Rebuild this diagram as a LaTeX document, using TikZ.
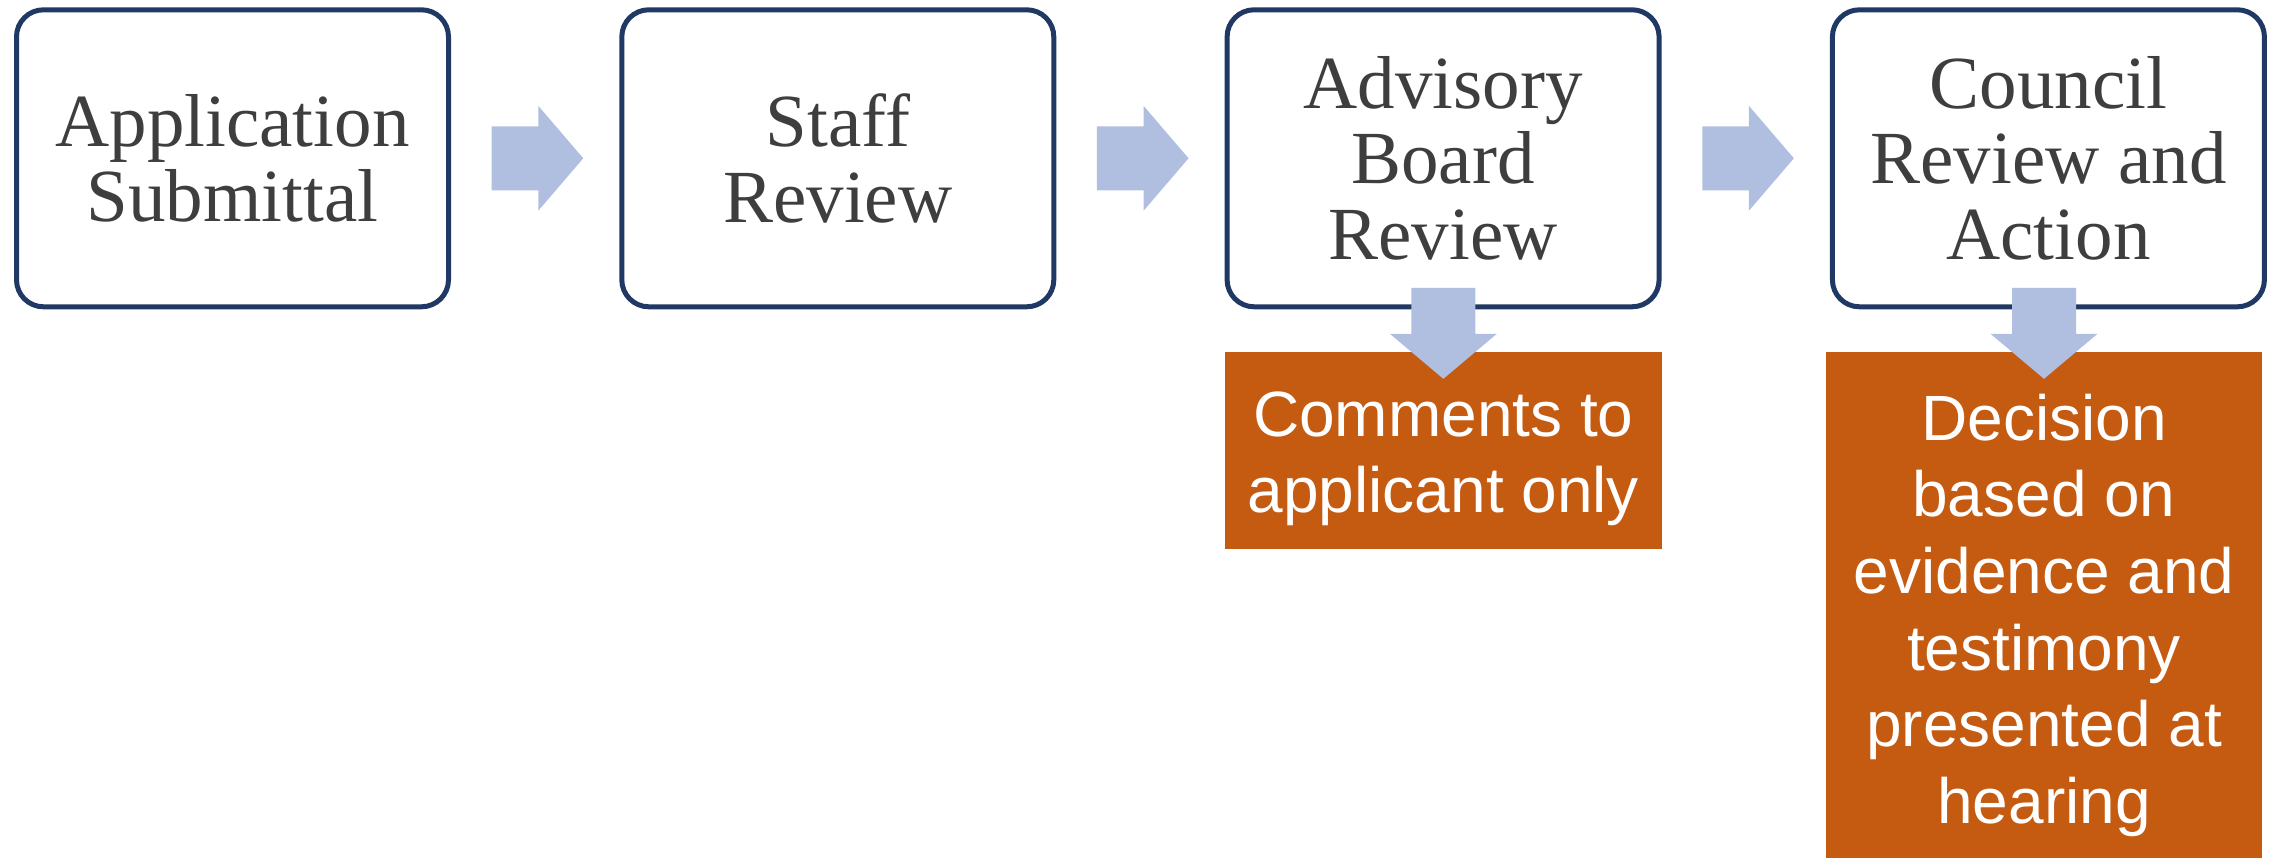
\documentclass[tikz,border=0pt]{standalone}
\usepackage{fontspec}
\setmainfont{Liberation Serif}
\newfontfamily\arialfont{Liberation Sans}
\usetikzlibrary{calc}
\definecolor{navy}{RGB}{32,56,100}
\definecolor{arrowblue}{RGB}{176,190,224}
\definecolor{burnt}{RGB}{197,90,17}
\definecolor{txtgray}{RGB}{62,62,62}
\begin{document}
\begin{tikzpicture}[x=1pt,y=-1pt,
  stagebox/.style={draw=navy, line width=5pt, rounded corners=27pt, fill=white,
    minimum width=432pt, minimum height=297pt, align=center, text=txtgray,
    font=\fontsize{75}{75.7}\selectfont, inner sep=0pt},
  outbox/.style={fill=burnt, inner sep=0pt},
  outtext/.style={text=white, align=center, font=\arialfont\fontsize{64}{76.7}\selectfont, inner sep=0pt},
  flowarrow/.style={fill=arrowblue}]
\useasboundingbox (0,0) rectangle (2279,858);

% stages
\node[stagebox] (b1) at (232.5,158.3) {Application\\Submittal};
\node[stagebox] (b2) at (837.8,158.3) {Staff\\Review};
\node[stagebox] (b3) at (1443.1,158.3) {Advisory\\Board\\Review};
\node[stagebox] (b4) at (2048.4,158.3) {Council\\Review and\\Action};

% outcome boxes
\node[outbox, minimum width=436.7pt, minimum height=197.3pt] (o3) at (1443.35,450.65) {};
\node[outbox, minimum width=436pt, minimum height=506pt] (o4) at (2044,605) {};

% right arrows between stages
\coordinate (m12) at ($(b1.east)!0.5!(b2.west)$);
\coordinate (m23) at ($(b2.east)!0.5!(b3.west)$);
\coordinate (m34) at ($(b3.east)!0.5!(b4.west)$);
\foreach \m in {m12,m23,m34}{
  \fill[flowarrow, shift={(\m)}] (-43.5,-32) -- (3.1,-32) -- (3.1,-52.5) -- (48.1,0)
    -- (3.1,52.5) -- (3.1,32) -- (-43.5,32) -- cycle;
}

% down arrows to outcome boxes
\foreach \o in {o3,o4}{
  \fill[flowarrow, shift={(\o.north)}] (-32,-64) -- (32,-64) -- (32,-18) -- (53.5,-18)
    -- (0,27) -- (-53.5,-18) -- (-32,-18) -- cycle;
}

% outcome texts
\node[outtext] (t3) at ($(o3.center)+(0,8)$) {Comments to\\applicant only};
\node[outtext] (t4) at ($(o4.center)+(0,10.3)$) {Decision\\based on\\evidence and\\testimony\\presented at\\hearing};
\end{tikzpicture}
\end{document}
